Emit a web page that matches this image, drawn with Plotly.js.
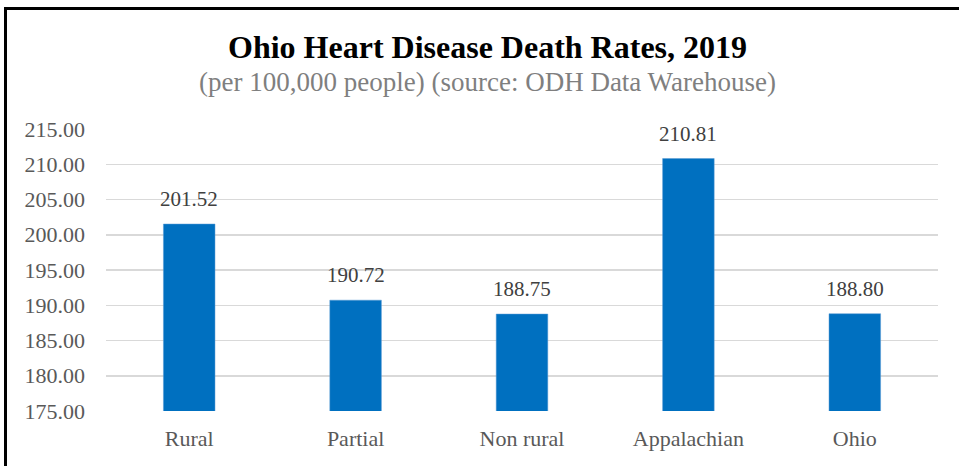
<!DOCTYPE html>
<html>
<head>
<meta charset="utf-8">
<script src="https://cdn.plot.ly/plotly-3.0.1.min.js"></script>
<style>
html,body{margin:0;padding:0;background:#fff;overflow:hidden;}
#wrap{position:relative;width:959px;height:466px;}
#chart{position:absolute;left:0;top:0;width:959px;height:466px;}
#frame{position:absolute;left:4px;top:7px;width:1000px;height:500px;border-left:3px solid #000;border-top:3px solid #000;pointer-events:none;box-sizing:border-box;}
</style>
</head>
<body>
<div id="wrap"><div id="chart"></div><div id="frame"></div></div>
<script>
const categories = ["Rural", "Partial", "Non rural", "Appalachian", "Ohio"];
const rates = [201.52, 190.72, 188.75, 210.81, 188.80];
const yTicks = [175, 180, 185, 190, 195, 200, 205, 210, 215];
const chartTitle = "Ohio Heart Disease Death Rates, 2019";
const chartSubtitle = "(per 100,000 people) (source: ODH Data Warehouse)";

const serif = "Liberation Serif, Times New Roman, serif";

const trace = {
  type: "bar",
  x: categories,
  y: rates,
  marker: {color: "#0070C0", line: {color: "#5B9BD5", width: 0.5}},
  hoverinfo: "x+y"
};

const annotations = categories.map((c, i) => ({
  x: c, y: rates[i], xref: "x", yref: "y",
  text: rates[i].toFixed(2), showarrow: false,
  yanchor: "bottom", yshift: 11,
  font: {family: serif, size: 21, color: "#404040"}
}));
annotations.push({
  xref: "paper", yref: "paper", x: 0.458, y: 1.291, xanchor: "center", yanchor: "middle",
  text: "<b>" + chartTitle + "</b>", showarrow: false,
  font: {family: serif, size: 32, color: "#000"}
});
annotations.push({
  xref: "paper", yref: "paper", x: 0.458, y: 1.167, xanchor: "center", yanchor: "middle",
  text: chartSubtitle, showarrow: false,
  font: {family: serif, size: 27, color: "#7F7F7F"}
});

const layout = {
  width: 959, height: 466,
  margin: {l: 106, r: 21, t: 129, b: 55},
  paper_bgcolor: "#fff", plot_bgcolor: "#fff",
  showlegend: false,
  bargap: 0.69,
  xaxis: {
    type: "category", range: [-0.5, 4.5],
    showgrid: false, showline: false, zeroline: false, ticks: "",
    ticklabelstandoff: 12,
    tickfont: {family: serif, size: 22, color: "#595959"}
  },
  yaxis: {
    range: [175, 215],
    tickvals: yTicks,
    ticktext: yTicks.map(v => v.toFixed(2)),
    showgrid: true, gridcolor: "#D9D9D9", gridwidth: 1.5,
    zeroline: false, showline: false, ticks: "",
    ticklabelstandoff: 20,
    tickfont: {family: serif, size: 22, color: "#595959"}
  },
  annotations: annotations
};

Plotly.newPlot("chart", [trace], layout, {displayModeBar: false, staticPlot: true});
</script>
</body>
</html>
